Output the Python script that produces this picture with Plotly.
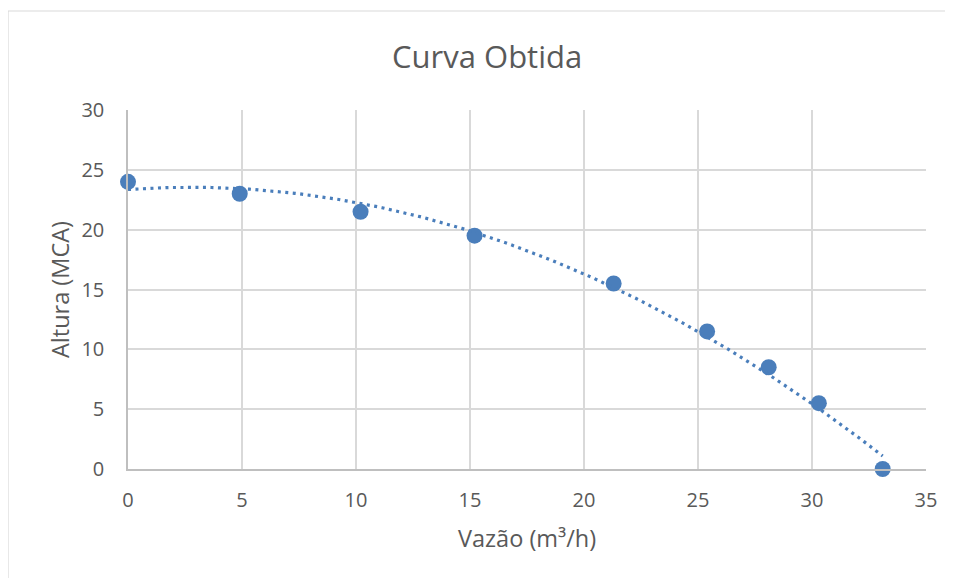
import numpy as np
import plotly.graph_objects as go

vazao = [0, 4.9, 10.2, 15.2, 21.3, 25.4, 28.1, 30.3, 33.1]
altura = [24.0, 23.0, 21.5, 19.5, 15.5, 11.5, 8.5, 5.5, 0.0]
x_ticks = [0, 5, 10, 15, 20, 25, 30, 35]
y_ticks = [0, 5, 10, 15, 20, 25, 30]

# Excel-style polynomial (order 2) trendline fitted to the data
coef = np.polyfit(vazao, altura, 2)
xt = np.linspace(min(vazao), max(vazao), 200)
yt = np.polyval(coef, xt)

color = "#4a7ebb"
font = "Open Sans"
grey = "#595959"

fig = go.Figure()
fig.add_trace(go.Scatter(x=vazao, y=altura, mode="markers",
                         marker=dict(color=color, size=16),
                         cliponaxis=False, showlegend=False))
fig.add_trace(go.Scatter(x=xt, y=yt, mode="lines",
                         line=dict(color=color, width=3.2, dash="3px,4.5px"),
                         cliponaxis=False, hoverinfo="skip", showlegend=False))

W, H = 945, 570
fig.update_layout(
    width=W, height=H,
    margin=dict(l=120, r=27, t=102, b=109),
    paper_bgcolor="white", plot_bgcolor="white",
    title=dict(text="Curva Obtida", x=0.507, xanchor="center", y=0.914, yanchor="middle",
               font=dict(family=font, size=31, color=grey)),
    font=dict(family=font, color=grey),
    xaxis=dict(range=[0, 35], tickvals=x_ticks, showgrid=True, gridcolor="#d9d9d9", gridwidth=1.5,
               zeroline=False, showline=True, linecolor="#bfbfbf", linewidth=1.5,
               ticks="", tickfont=dict(size=20, color=grey), ticklabelstandoff=12),
    yaxis=dict(range=[0, 30], tickvals=y_ticks, showgrid=True, gridcolor="#d9d9d9", gridwidth=1.5,
               zeroline=False, showline=True, linecolor="#bfbfbf", linewidth=1.5,
               ticks="", tickfont=dict(size=20, color=grey), ticklabelstandoff=18),
    annotations=[
        dict(text="Vazão (m³/h)", xref="paper", yref="paper", x=0.5, y=-0.192,
             xanchor="center", yanchor="middle", showarrow=False,
             font=dict(family=font, size=23.5, color=grey)),
        dict(text="Altura (MCA)", xref="paper", yref="paper", x=-0.085, y=0.499,
             xanchor="center", yanchor="middle", showarrow=False, textangle=-90,
             font=dict(family=font, size=23.5, color=grey)),
    ],
    shapes=[dict(type="rect", xref="paper", yref="paper",
                 x0=-120 / 798, x1=1.1, y0=-0.4, y1=(469 - 11) / 359,
                 line=dict(color="#d9d9d9", width=1.2), layer="below")],
)
fig.write_html("out.html")
